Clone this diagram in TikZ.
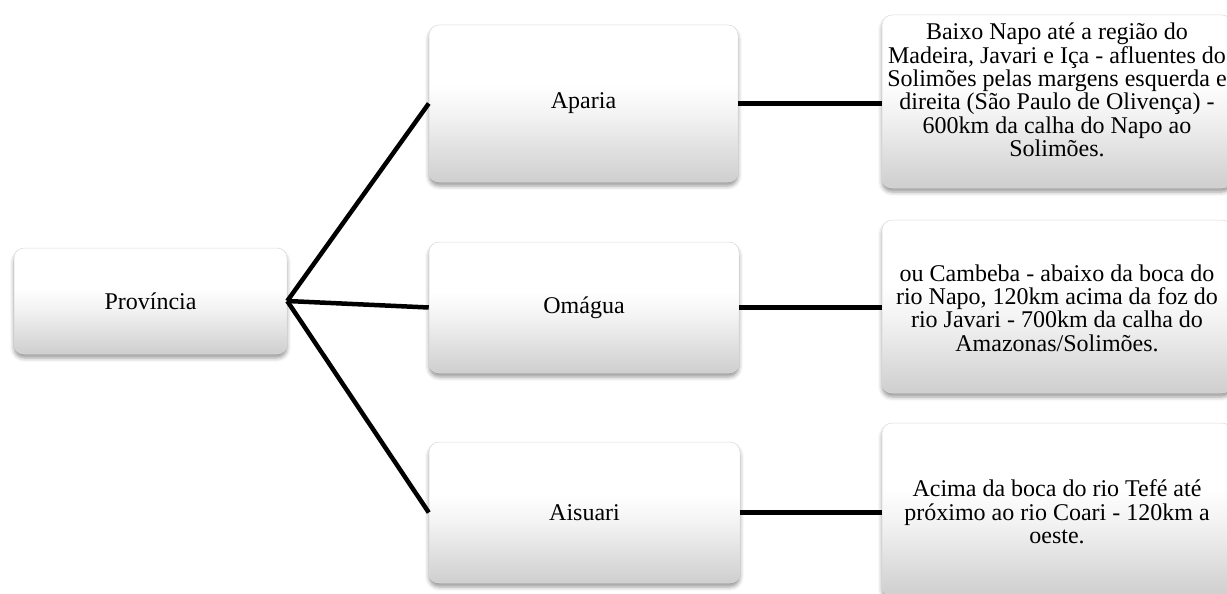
\documentclass[tikz,border=0pt]{standalone}
\usepackage{fontspec}
\setmainfont{Liberation Serif}
\usetikzlibrary{shadows.blur}

% soft vertical gradient: white upper half fading to light grey at the bottom
\pgfdeclareverticalshading{glossbox}{100bp}{%
  color(0bp)=(black!19); color(25bp)=(black!19); color(46bp)=(black!5);
  color(56bp)=(white); color(100bp)=(white)}

\tikzset{
  card/.style={rounded corners=10pt, shading=glossbox, draw=black!14, line width=0.5pt,
    blur shadow={shadow xshift=0pt, shadow yshift=-4pt, shadow blur radius=4pt, shadow opacity=40},
    inner sep=0pt, align=center, font=\fontsize{24}{23.3}\selectfont},
  leftcard/.style={card, minimum width=#1},
  desc/.style={align=center, inner sep=0pt, font=\fontsize{24}{23.3}\selectfont},
  link/.style={line width=4.5pt, black}
}

\begin{document}
\begin{tikzpicture}[x=1pt, y=-1pt]
  \useasboundingbox (0,0) rectangle (1227,594);

  % root
  \node[card, minimum width=273pt, minimum height=106pt] (prov) at (150.5,301) {Província};

  % provinces
  \node[card, minimum width=309pt, minimum height=157pt] (aparia)  at (583.5,103.5) {Aparia};
  \node[card, minimum width=310pt, minimum height=131pt] (omagua)  at (584,307.5)   {Omágua};
  \node[card, minimum width=311pt, minimum height=141pt] (aisuari) at (584.5,512.5) {Aisuari};

  % descriptions
  \node[card, minimum width=350pt, minimum height=173pt] (r1) at (1057,101.5) {};
  \node[card, minimum width=350pt, minimum height=173pt] (r2) at (1057,306.5) {};
  \node[card, minimum width=350pt, minimum height=173pt] (r3) at (1057,509.5) {};

  \node[desc] (t1) at (1057,90) {Baixo Napo até a região do\\Madeira, Javari e Iça - afluentes do\\Solimões pelas margens esquerda e\\direita (São Paulo de Olivença) -\\600km da calha do Napo ao\\Solimões.};
  \node[desc] (t2) at (1057,308) {ou Cambeba - abaixo da boca do\\rio Napo, 120km acima da foz do\\rio Javari - 700km da calha do\\Amazonas/Solimões.};
  \node[desc] (t3) at (1057,512) {Acima da boca do rio Tefé até\\próximo ao rio Coari - 120km a\\oeste.};

  % connectors
  \draw[link] (prov.east) -- (aparia.west);
  \draw[link] (prov.east) -- (omagua.west);
  \draw[link] (prov.east) -- (aisuari.west);
  \draw[link] (aparia.east)  -- (aparia.east -| r1.west);
  \draw[link] (omagua.east)  -- (omagua.east -| r2.west);
  \draw[link] (aisuari.east) -- (aisuari.east -| r3.west);
\end{tikzpicture}
\end{document}
